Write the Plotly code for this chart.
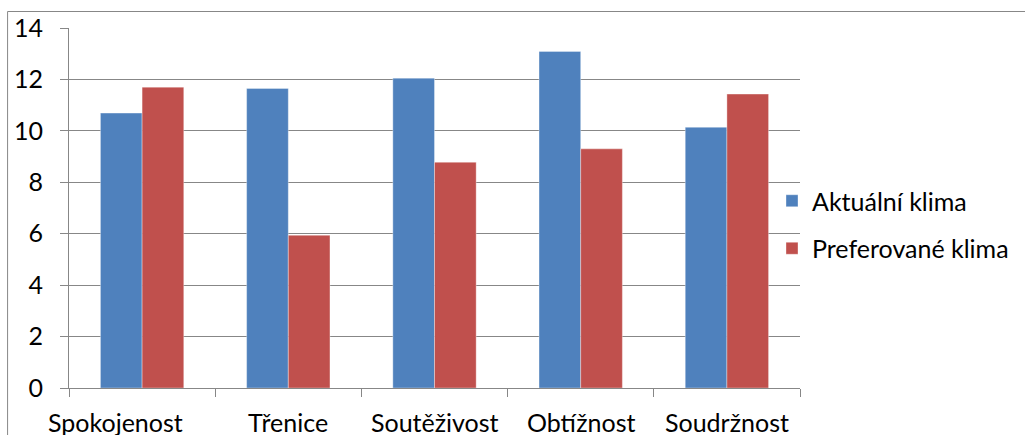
import plotly.graph_objects as go

# Chart data
categories = ["Spokojenost", "Třenice", "Soutěživost", "Obtížnost", "Soudržnost"]
aktualni = [10.69, 11.65, 12.05, 13.09, 10.14]
preferovane = [11.70, 5.94, 8.78, 9.30, 11.43]
series_names = ["Aktuální klima", "Preferované klima"]
y_ticks = [0, 2, 4, 6, 8, 10, 12, 14]

W, H = 1025, 435
L, R, T, B = 69, 224, 28, 47
PW, PH = W - L - R, H - T - B

FONT = "Lato"
FS = 25
GRAY = "#878787"
BLUE = "#4F81BD"
RED = "#C0504D"

fig = go.Figure()
fig.add_trace(go.Bar(
    x=categories, y=aktualni, name=series_names[0], legendgroup="a",
    marker=dict(color=BLUE, line=dict(color="rgba(255,255,255,0.35)", width=1)),
))
fig.add_trace(go.Bar(
    x=categories, y=preferovane, name=series_names[1], legendgroup="p",
    marker=dict(color=RED, line=dict(color="rgba(255,255,255,0.35)", width=1)),
))

# category labels below the axis
label_shift = [-27, 0, 0, 0, 0]
for cat, dx in zip(categories, label_shift):
    fig.add_annotation(
        x=cat, y=0, xref="x", yref="y", text=cat, showarrow=False,
        xanchor="center", yanchor="top", yshift=-17, xshift=dx,
        font=dict(family=FONT, size=FS, color="black"),
    )


def px_x(px):
    return (px - L) / PW


def px_y(py):
    return (H - B - py) / PH


# outer chart frame
fig.add_shape(
    type="rect", xref="paper", yref="paper",
    x0=px_x(7.5), x1=px_x(1100), y0=px_y(500), y1=px_y(11.5),
    line=dict(color=GRAY, width=1), fillcolor="rgba(0,0,0,0)", layer="below",
)

fig.update_layout(
    width=W, height=H,
    margin=dict(l=L, r=R, t=T, b=B, pad=0),
    paper_bgcolor="white", plot_bgcolor="white",
    font=dict(family=FONT, size=FS, color="black"),
    barmode="group", bargap=0.43, bargroupgap=0,
    showlegend=True,
    legend=dict(
        x=px_x(772), y=px_y(178), xanchor="left", yanchor="top",
        bgcolor="rgba(0,0,0,0)", borderwidth=0,
        tracegroupgap=12, traceorder="grouped",
        font=dict(family=FONT, size=FS, color="black"),
    ),
    xaxis=dict(
        type="category", range=[-0.5, len(categories) - 0.5],
        showticklabels=False,
        tickson="boundaries", ticks="outside", ticklen=8, tickcolor=GRAY,
        showline=True, linecolor=GRAY, linewidth=1, showgrid=False,
        zeroline=False,
    ),
    yaxis=dict(
        range=[0, 14], tickvals=y_ticks, ticks="outside", ticklen=8,
        tickcolor=GRAY, showline=True, linecolor=GRAY, linewidth=1,
        showgrid=True, gridcolor=GRAY, gridwidth=1, zeroline=False,
        ticklabelstandoff=12,
        tickfont=dict(family=FONT, size=FS, color="black"),
    ),
)

fig.write_html("out.html")
